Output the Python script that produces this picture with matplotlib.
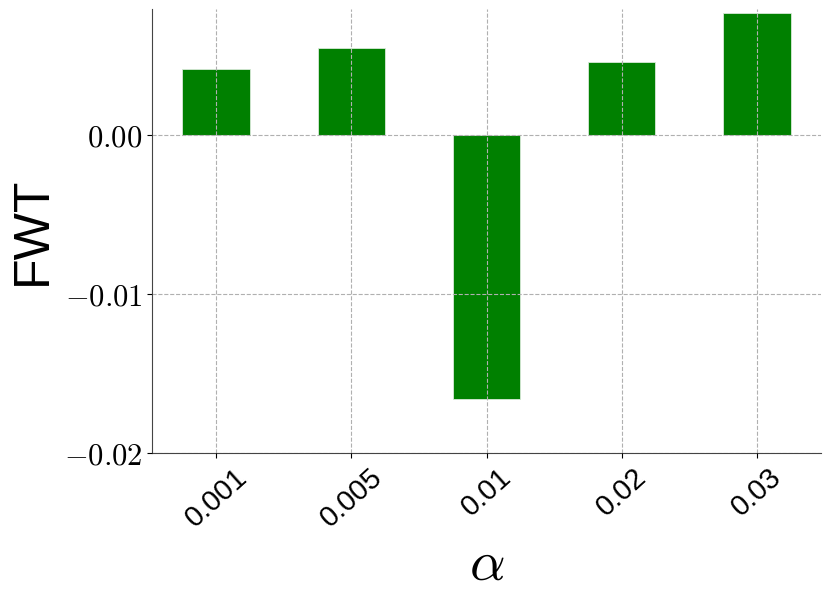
import numpy as np
import matplotlib
matplotlib.use('Agg')
import matplotlib.pyplot as plt

plt.rcParams['mathtext.fontset'] = 'cm'

# data
alphas = ['0.001', '0.005', '0.01', '0.02', '0.03']
fwt = [0.00415, 0.00547, -0.0166, 0.00459, 0.00766]

fig, ax = plt.subplots(figsize=(8.31, 5.96), dpi=100)
fig.subplots_adjust(left=0.183, right=0.988, top=0.985, bottom=0.24)

x = np.arange(len(alphas))
ax.bar(x, fwt, width=0.5, color='green', edgecolor='#d8ead8', linewidth=0.6, zorder=1)

ax.set_axisbelow(False)
ax.grid(True, linestyle='--', color='#b0b0b0', linewidth=0.8, zorder=3)

ax.set_xticks(x)
ax.set_xticklabels(alphas, rotation=42, fontsize=21, fontfamily='Liberation Sans')
ax.set_yticks([-0.02, -0.01, 0.0])
ax.set_yticklabels([r'$-0.02$', r'$-0.01$', r'$0.00$'], fontsize=22)
ax.set_ylim(-0.02, 0.00792)

ax.set_ylabel('FWT', fontsize=36, fontfamily='Liberation Sans', labelpad=6)
ax.set_xlabel(r'$\alpha$', fontsize=40)

for s in ['top', 'right']:
    ax.spines[s].set_visible(False)
for s in ['left', 'bottom']:
    ax.spines[s].set_color('#444444')

fig.savefig('out.png', dpi=100)
